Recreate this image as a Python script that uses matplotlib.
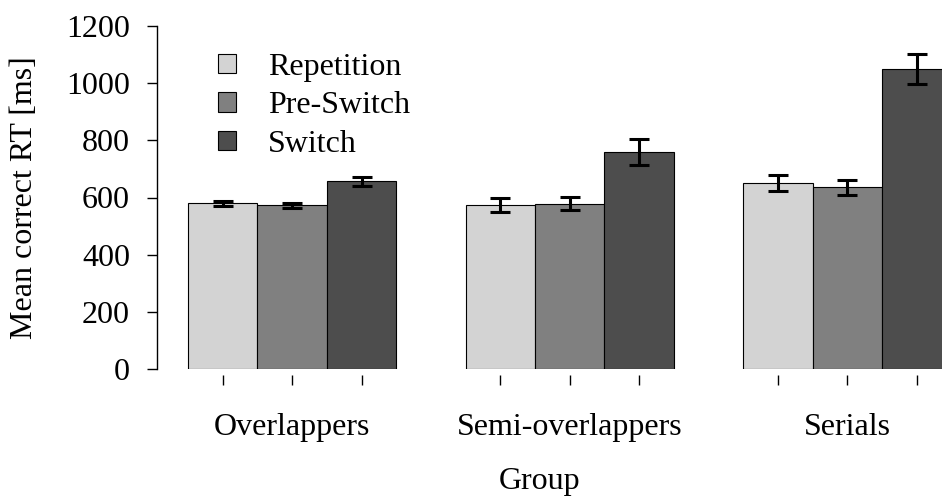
import numpy as np
import matplotlib
matplotlib.use("Agg")
import matplotlib.pyplot as plt
from matplotlib.patches import Patch
from matplotlib.transforms import ScaledTranslation

plt.rcParams['font.family'] = ['Liberation Serif', 'DejaVu Serif']

groups = ["Overlappers", "Semi-overlappers", "Serials"]
conditions = ["Repetition", "Pre-Switch", "Switch"]
colors = ["#d3d3d3", "#808080", "#4d4d4d"]

# mean correct RT per group (rows) and condition (columns)
means = np.array([[580, 573, 657],
                  [575, 578, 760],
                  [650, 635, 1050]])
errors = np.array([[9, 9, 16],
                   [24, 23, 45],
                   [27, 26, 53]])

FS = 23
fig = plt.figure(figsize=(9.42, 4.97), dpi=100)
W, H = 942, 497
ax = fig.add_axes([157 / W, (H - 369) / H, 1 - 157 / W, (369 - 26) / H])

# barplot layout: bar width 1, one empty slot between groups
centers = []
for g in range(len(groups)):
    for c in range(len(conditions)):
        x = 1.5 + g * 4 + c
        centers.append(x)
        ax.bar(x, means[g, c], width=1, color=colors[c], edgecolor="black",
               linewidth=0.8, zorder=2)
        ax.errorbar(x, means[g, c], yerr=errors[g, c], color="black",
                    elinewidth=2.2, capsize=7.5, capthick=2.2, zorder=3)

ax.set_xlim(0.553, 11.865)
ax.set_ylim(0, 1200)

for s in ["top", "right", "bottom"]:
    ax.spines[s].set_visible(False)
ax.spines["left"].set_bounds(0, 1200)
ax.spines["left"].set_linewidth(1)

ax.set_yticks(np.arange(0, 1201, 200))
ax.tick_params(axis="y", length=7.5, width=1, labelsize=FS, pad=12)
ax.set_xticks(centers)
ax.set_xticklabels([])
ax.tick_params(axis="x", length=7.5, width=1, pad=0)
for t in ax.xaxis.get_ticklines():
    t.set_transform(t.get_transform() + ScaledTranslation(0, -6 / 100, fig.dpi_scale_trans))

for g, name in enumerate(groups):
    ax.text(2.5 + g * 4, -0.172, name, transform=ax.get_xaxis_transform(),
            ha="center", va="center", fontsize=FS)

fig.text(540 / W, 1 - 481 / H, "Group", ha="center", va="center", fontsize=FS)
fig.text(25 / W, 1 - 198 / H, "Mean correct RT [ms]", rotation=90,
         ha="center", va="center", fontsize=FS)

handles = [Patch(facecolor=c, edgecolor="black", linewidth=0.8) for c in colors]
ax.legend(handles, conditions, loc="upper left", bbox_to_anchor=(0.0777, 0.922),
          frameon=False, fontsize=FS, handlelength=0.56, handleheight=0.56,
          handletextpad=1.0, labelspacing=0.3, borderpad=0, borderaxespad=0)

fig.savefig("out.png", dpi=100)
